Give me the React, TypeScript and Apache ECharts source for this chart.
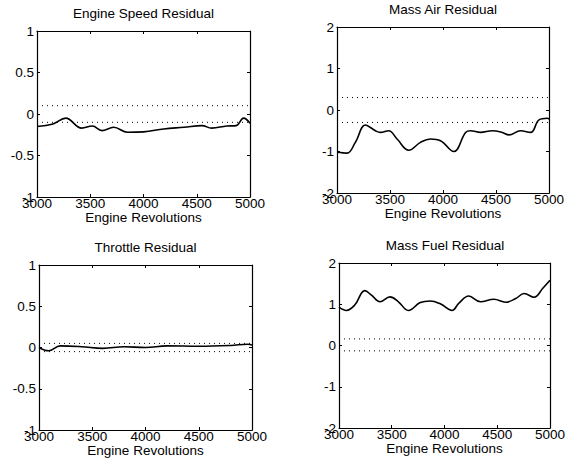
import React, { useEffect, useRef } from "react";
import * as echarts from "echarts";

const titles = ["Engine Speed Residual", "Mass Air Residual", "Throttle Residual", "Mass Fuel Residual"];
const xName = "Engine Revolutions";

const revsSpeed = [3000, 3150, 3270, 3420, 3520, 3610, 3720, 3850, 4000, 4190, 4380, 4550, 4640, 4780, 4870, 4940, 5000];
const speed = [-0.15, -0.12, -0.05, -0.17, -0.145, -0.2, -0.16, -0.22, -0.215, -0.18, -0.16, -0.14, -0.17, -0.145, -0.14, -0.05, -0.11];

const revsAir = [3000, 3095, 3173, 3268, 3362, 3409, 3488, 3567, 3677, 3787, 3882, 3976, 4102, 4213, 4260, 4354, 4465, 4559, 4622, 4732, 4827, 4906, 4984, 5000];
const air = [-1.02, -1.04, -0.78, -0.36, -0.5, -0.54, -0.5, -0.7, -0.97, -0.78, -0.7, -0.74, -1.0, -0.54, -0.5, -0.54, -0.5, -0.54, -0.6, -0.5, -0.54, -0.24, -0.2, -0.22];

const revsThr = [3000, 3090, 3200, 3400, 3600, 3800, 4000, 4200, 4500, 4800, 4960, 5000];
const thr = [0.0, -0.04, 0.02, 0.01, -0.01, 0.01, 0.0, 0.02, 0.015, 0.025, 0.04, 0.03];

const revsFuel = [3000, 3070, 3149, 3245, 3308, 3388, 3483, 3563, 3658, 3770, 3865, 3960, 4072, 4135, 4230, 4342, 4469, 4580, 4676, 4755, 4850, 4930, 5000];
const fuel = [0.93, 0.85, 0.98, 1.33, 1.22, 1.06, 1.18, 1.06, 0.85, 1.04, 1.08, 1.01, 0.85, 1.02, 1.2, 1.06, 1.12, 1.05, 1.14, 1.26, 1.17, 1.38, 1.58];

const thresholds = [
  [0.1, -0.1],
  [0.3, -0.3],
  [0.05, -0.05],
  [0.16, -0.13],
];
const yRanges = [
  [-1, 1, 0.5],
  [-2, 2, 1],
  [-1, 1, 0.5],
  [-2, 2, 1],
];

const grids = [
  { left: 37, top: 31, width: 213, height: 166 },
  { left: 337, top: 27, width: 212, height: 166 },
  { left: 39, top: 265, width: 213, height: 165 },
  { left: 339, top: 263, width: 212, height: 165 },
];

const FONT = "'Liberation Sans', Arial, Helvetica, sans-serif";

export default function App() {
  const ref = useRef<HTMLDivElement>(null);
  useEffect(() => {
    if (!ref.current) return;
    const chart = echarts.init(ref.current, null, { renderer: "svg" });
    const revs = [revsSpeed, revsAir, revsThr, revsFuel];
    const vals = [speed, air, thr, fuel];

    const xAxis: any[] = [];
    const yAxis: any[] = [];
    const series: any[] = [];
    const title: any[] = [];

    grids.forEach((g, i) => {
      const [ymin, ymax, yint] = yRanges[i];
      title.push({
        text: titles[i],
        left: g.left + g.width / 2,
        top: g.top - 25,
        padding: 0,
        textAlign: "center",
        textStyle: { fontFamily: FONT, fontSize: 13.5, fontWeight: "normal", color: "#000" },
      });
      const axisLine = { show: true, onZero: false, lineStyle: { color: "#000", width: 1.2 } };
      const tick = { show: true, inside: true, length: 3, lineStyle: { color: "#000" } };
      const fmt = (v: number) => String(v);
      xAxis.push({
        type: "value",
        gridIndex: i,
        min: 3000,
        max: 5000,
        interval: 500,
        position: "bottom",
        axisLine,
        axisTick: tick,
        splitLine: { show: false },
        axisLabel: { fontFamily: FONT, fontSize: 13.5, color: "#000", margin: -1, formatter: fmt },
        name: xName,
        nameLocation: "middle",
        nameGap: 8,
        nameTextStyle: { fontFamily: FONT, fontSize: 13.5, color: "#000", verticalAlign: "top" },
      });
      xAxis.push({
        type: "value",
        gridIndex: i,
        min: 3000,
        max: 5000,
        interval: 500,
        position: "top",
        axisLine,
        axisTick: tick,
        splitLine: { show: false },
        axisLabel: { show: false },
      });
      yAxis.push({
        type: "value",
        gridIndex: i,
        min: ymin,
        max: ymax,
        interval: yint,
        position: "left",
        axisLine,
        axisTick: tick,
        splitLine: { show: false },
        axisLabel: { fontFamily: FONT, fontSize: 13.5, color: "#000", margin: 3, formatter: fmt },
      });
      yAxis.push({
        type: "value",
        gridIndex: i,
        min: ymin,
        max: ymax,
        interval: yint,
        position: "right",
        axisLine,
        axisTick: tick,
        splitLine: { show: false },
        axisLabel: { show: false },
      });

      series.push({
        type: "line",
        xAxisIndex: i * 2,
        yAxisIndex: i * 2,
        data: revs[i].map((r, k) => [r, vals[i][k]]),
        smooth: 0.4,
        showSymbol: false,
        symbol: "none",
        lineStyle: { color: "#000", width: 1.6 },
      });
      thresholds[i].forEach((t) => {
        series.push({
          type: "line",
          xAxisIndex: i * 2,
          yAxisIndex: i * 2,
          data: [
            [3000, t],
            [5000, t],
          ],
          showSymbol: false,
          symbol: "none",
          lineStyle: { color: "#000", width: 1, type: [1, 4] },
        });
      });
    });

    chart.setOption({
      animation: false,
      backgroundColor: "#fff",
      title,
      grid: grids.map((g) => ({ ...g, containLabel: false })),
      xAxis,
      yAxis,
      series,
    });
    return () => chart.dispose();
  }, []);
  return (
    <div
      ref={ref}
      style={{ position: "fixed", left: 0, top: 0, width: 568, height: 468, background: "#fff" }}
    />
  );
}
